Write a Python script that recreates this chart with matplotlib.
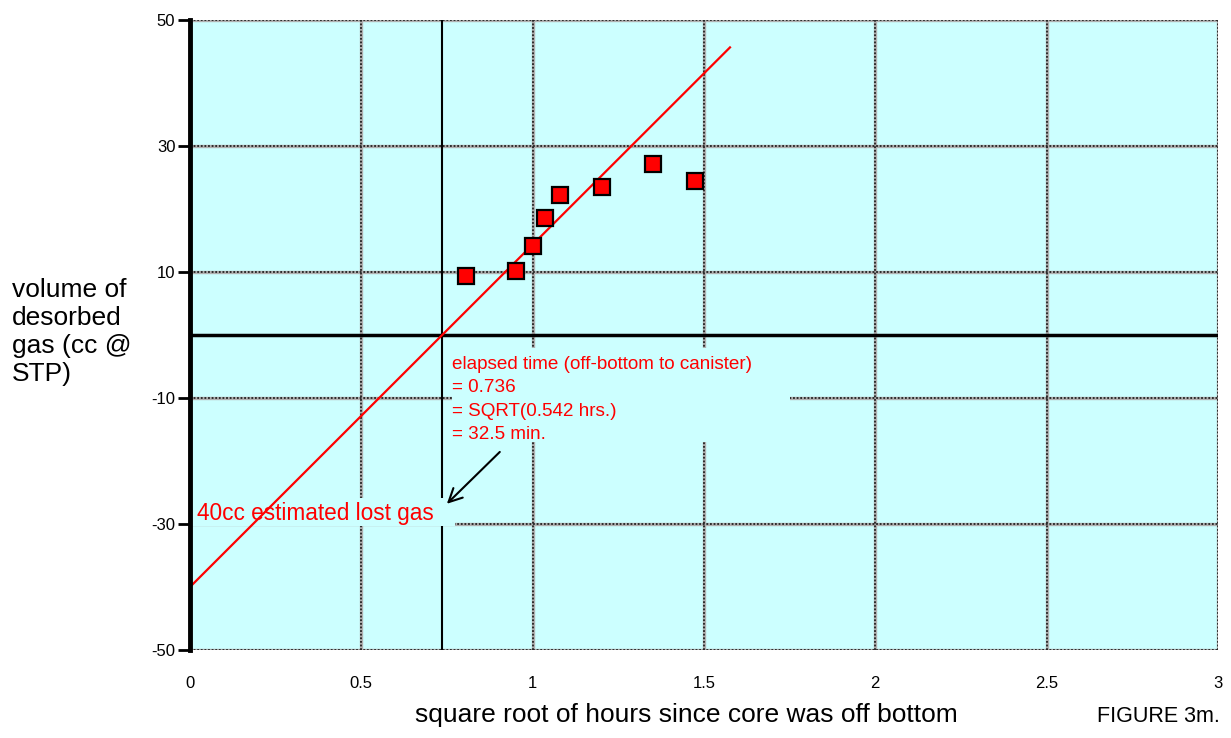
import numpy as np
import matplotlib
matplotlib.use("Agg")
import matplotlib.pyplot as plt
from matplotlib.patches import Rectangle

plt.rcParams['font.family'] = ['Liberation Sans', 'DejaVu Sans']

# measured desorption points
sqrt_hours = [0.805, 0.951, 1.0, 1.036, 1.08, 1.202, 1.351, 1.474]
volume_cc = [9.4, 10.2, 14.1, 18.6, 22.2, 23.5, 27.1, 24.4]

# straight-line fit back to time zero
lost_gas = -40.0
elapsed = 0.736
fit_end = 1.576

x_ticks = [0, 0.5, 1, 1.5, 2, 2.5, 3]
x_tick_labels = ['0', '0.5', '1', '1.5', '2', '2.5', '3']
y_ticks = [-50, -30, -10, 10, 30, 50]
y_tick_labels = ['-50', '-30', '-10', '10', '30', '50']

cyan = '#ccffff'

fig = plt.figure(figsize=(12.31, 7.38), dpi=100)
ax = fig.add_axes([0.1543, 0.1192, 0.9894 - 0.1543, 0.9729 - 0.1192])
ax.set_facecolor(cyan)
ax.set_xlim(0, 3)
ax.set_ylim(-50, 50)

# dotted grid, drawn as a light band with dark dots on top
for gx in x_ticks[1:]:
    ax.axvline(gx, color='#b0b0b0', lw=2.4, zorder=1)
    ax.axvline(gx, color='#222222', lw=1.3, ls=(0, (1, 1)), zorder=1.1)
for gy in y_ticks:
    ax.axhline(gy, color='#b0b0b0', lw=2.4, zorder=1)
    ax.axhline(gy, color='#222222', lw=1.3, ls=(0, (1, 1)), zorder=1.1)

for s in ['top', 'right', 'bottom']:
    ax.spines[s].set_visible(False)
ax.spines['left'].set_linewidth(3.5)
ax.spines['left'].set_zorder(5)

ax.set_xticks(x_ticks)
ax.set_xticklabels(x_tick_labels)
ax.set_yticks(y_ticks)
ax.set_yticklabels(y_tick_labels)
ax.tick_params(axis='x', length=0, pad=19, labelsize=12)
ax.tick_params(axis='y', length=9, width=2, pad=1.5, labelsize=12)

# zero line and elapsed-time marker
ax.axhline(0, color='black', lw=2.5, zorder=2)
ax.axvline(elapsed, color='black', lw=1.5, zorder=2)

# fitted line
fx = np.array([0, fit_end])
slope = -lost_gas / elapsed
ax.plot(fx, lost_gas + slope * fx, color='#ff0000', lw=1.6, zorder=4)

ax.plot(sqrt_hours, volume_cc, ls='none', marker='s', ms=11,
        mfc='#ff0000', mec='black', mew=1.6, zorder=6)

# plain backgrounds behind the two notes
ax.add_patch(Rectangle((0.765, -17.0), 0.986, 14.95, facecolor=cyan,
                       edgecolor='none', zorder=2.5))
ax.add_patch(Rectangle((0.0, -30.3), 0.773, 4.4, facecolor=cyan,
                       edgecolor='none', zorder=2.5))

ax.text(0.766, -3.3,
        'elapsed time (off-bottom to canister)\n= 0.736\n= SQRT(0.542 hrs.)\n= 32.5 min.',
        color='#ff0000', fontsize=13.6, va='top', ha='left', linespacing=1.5,
        zorder=3)

ax.text(0.02, -28.3, '40cc estimated lost gas', color='#ff0000', fontsize=16.3,
        va='center', ha='left', zorder=3)

ax.annotate('', xy=(0.744, -27.1), xytext=(0.91, -18.25),
            arrowprops=dict(arrowstyle='->', color='black', lw=1.5,
                            mutation_scale=24), zorder=6)

fig.text(0.01, 0.55, 'volume of\ndesorbed\ngas (cc @\nSTP)', fontsize=19,
         va='center', ha='left', linespacing=1.2)
fig.text(0.5577, 0.0217, 'square root of hours since core was off bottom',
         fontsize=19, ha='center', va='baseline')
fig.text(0.991, 0.0217, 'FIGURE 3m.', fontsize=15.5, ha='right', va='baseline')

fig.savefig('out.png', dpi=100)
